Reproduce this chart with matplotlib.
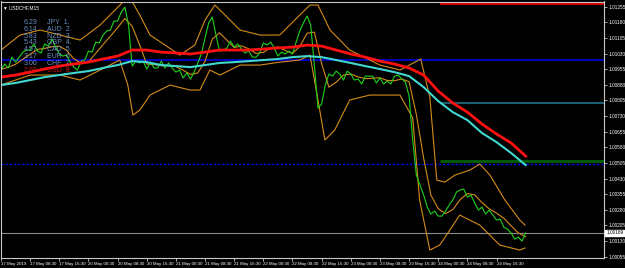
import matplotlib
matplotlib.use('Agg')
import matplotlib.pyplot as plt
import numpy as np

# close price, one value per trading hour from 17 May 2019 00:30
close = [1.00951, 1.00980, 1.00961, 1.01013, 1.00989, 1.01013, 1.01037, 1.01047, 1.01047, 1.01076,
         1.01042, 1.01033, 1.01076, 1.01066, 1.01100, 1.01061, 1.01028, 1.01018, 1.01023, 1.00989,
         1.00965, 1.00951, 1.00994, 1.00999, 1.01042, 1.01037, 1.01085, 1.01081, 1.01119, 1.01138,
         1.01143, 1.01186, 1.01186, 1.01229, 1.01253, 1.01167, 1.00970, 1.00994, 1.00985, 1.00994,
         1.00956, 1.00989, 1.00961, 1.00961, 1.00994, 1.00961, 1.00985, 1.00961, 1.00941, 1.00951,
         1.00913, 1.00937, 1.00908, 1.00941, 1.00985, 1.01028, 1.01105, 1.01177, 1.01205, 1.01119,
         1.01042, 1.01047, 1.01057, 1.01090, 1.01061, 1.01076, 1.01052, 1.01033, 1.01042, 1.01013,
         1.01013, 1.01033, 1.01081, 1.01071, 1.01085, 1.01057, 1.01018, 1.01037, 1.01028, 1.01042,
         1.01028, 1.01085, 1.01138, 1.01177, 1.01210, 1.01167, 1.00975, 1.00769, 1.00788, 1.00879,
         1.00932, 1.00922, 1.00946, 1.00932, 1.00903, 1.00946, 1.00932, 1.00903, 1.00908, 1.00884,
         1.00922, 1.00922, 1.00922, 1.00889, 1.00913, 1.00884, 1.00898, 1.00884, 1.00922, 1.00927,
         1.00908, 1.00893, 1.00826, 1.00615, 1.00447, 1.00399, 1.00351, 1.00293, 1.00260, 1.00274,
         1.00250, 1.00250, 1.00274, 1.00303, 1.00327, 1.00365, 1.00375, 1.00380, 1.00341, 1.00351,
         1.00313, 1.00279, 1.00293, 1.00260, 1.00279, 1.00255, 1.00231, 1.00236, 1.00197, 1.00188,
         1.00169, 1.00140, 1.00149, 1.00130, 1.00169]

# moving averages, one value every 4 hours
ma_hours = list(range(0, 145, 4))
ma_red = [1.00917, 1.00927, 1.00941, 1.00956, 1.00970, 1.00980, 1.00989, 1.01004, 1.01018, 1.01047,
          1.01047, 1.01037, 1.01033, 1.01028, 1.01037, 1.01047, 1.01047, 1.01047, 1.01052, 1.01057,
          1.01061, 1.01071, 1.01066, 1.01047, 1.01028, 1.01013, 1.00994, 1.00980, 1.00961, 1.00927,
          1.00850, 1.00793, 1.00749, 1.00692, 1.00644, 1.00601, 1.00538]
ma_cyan = [1.00879, 1.00889, 1.00903, 1.00917, 1.00927, 1.00937, 1.00946, 1.00961, 1.00975, 1.00994,
           1.00989, 1.00975, 1.00970, 1.00965, 1.00975, 1.00985, 1.00989, 1.00994, 1.00999, 1.01004,
           1.01013, 1.01018, 1.01013, 1.00999, 1.00985, 1.00970, 1.00956, 1.00941, 1.00922, 1.00869,
           1.00802, 1.00749, 1.00711, 1.00649, 1.00605, 1.00553, 1.00495]

# bollinger bands: middle line every 2 hours, outer bands at turning points
bb_mid_hours = list(range(0, 145, 2))
bb_mid = [1.00955, 1.00964, 1.00979, 1.01003, 1.01027, 1.01050, 1.01055, 1.01063, 1.01066, 1.01046,
          1.01005, 1.00984, 1.00990, 1.01031, 1.01073, 1.01113, 1.01154, 1.01199, 1.01161, 1.01074,
          1.00980, 1.00977, 1.00972, 1.00972, 1.00968, 1.00950, 1.00930, 1.00937, 1.00993, 1.01100,
          1.01130, 1.01094, 1.01059, 1.01067, 1.01053, 1.01031, 1.01036, 1.01057, 1.01062, 1.01045,
          1.01031, 1.01064, 1.01128, 1.01133, 1.00982, 1.00869, 1.00893, 1.00927, 1.00932, 1.00918,
          1.00910, 1.00912, 1.00914, 1.00901, 1.00900, 1.00908, 1.00895, 1.00738, 1.00528, 1.00350,
          1.00286, 1.00262, 1.00281, 1.00329, 1.00358, 1.00352, 1.00315, 1.00285, 1.00264, 1.00240,
          1.00204, 1.00169, 1.00151]
bb_up_hours = [0, 5.2, 10.7, 16.2, 21.7, 27.2, 31.3, 34, 35.4, 38.1, 40.9, 45, 49.1, 53.2, 56, 58.7,
               61.5, 65.6, 71.1, 76.5, 82, 84.8, 87, 90.3, 95.7, 104, 109.5, 113.6, 115.2, 117.7,
               119.6, 121.8, 124.6, 128.7, 131.4, 134.2, 138.3, 142.4, 143.8]
bb_up = [1.01047, 1.01119, 1.01143, 1.01119, 1.01095, 1.01167, 1.01239, 1.01287, 1.01297, 1.01215,
         1.01119, 1.01071, 1.01023, 1.01071, 1.01191, 1.01263, 1.01215, 1.01143, 1.01119, 1.01119,
         1.01215, 1.01263, 1.01263, 1.01143, 1.01047, 1.00975, 1.00951, 1.00989, 1.01004, 1.00821,
         1.00423, 1.00413, 1.00447, 1.00471, 1.00500, 1.00447, 1.00327, 1.00231, 1.00207]
bb_lo_hours = [0, 8, 16.2, 21.7, 27.2, 32.6, 34.8, 36.2, 38.1, 40.9, 46.4, 51.9, 54.6, 57.3, 60.1,
               65.6, 71.1, 76.5, 82, 84.8, 87, 88.9, 91.6, 95.7, 101.2, 109.5, 113, 114.9, 117.7,
               120.4, 123.2, 125.9, 131.4, 136.9, 142.4, 143.8]
bb_lo = [1.00879, 1.00927, 1.00927, 1.00903, 1.00951, 1.00999, 1.00879, 1.00735, 1.00759, 1.00831,
         1.00879, 1.00855, 1.00855, 1.00951, 1.00927, 1.00975, 1.00975, 1.00989, 1.00999, 1.01023,
         1.00807, 1.00615, 1.00663, 1.00807, 1.00831, 1.00831, 1.00721, 1.00327, 1.00087, 1.00111,
         1.00183, 1.00255, 1.00207, 1.00111, 1.00087, 1.00097]

# horizontal levels
lvl_red = 1.01266
lvl_blue = 1.00998
lvl_teal = 1.00794
lvl_green = 1.00516
lvl_blue_dot = 1.00500
bid = 1.00169
lvl_start = 120.4

# currency strength table
strength = ['6.29', '6.14', '5.83', '5.43', '4.57', '3.17', '3.00', '2.60']
currencies = ['JPY', 'AUD', 'NZD', 'GBP', 'CAD', 'EUR', 'CHF', 'USD']

xlabels = ['17 May 2019', '17 May 08:30', '17 May 16:30', '20 May 00:30', '20 May 08:30',
           '20 May 16:30', '21 May 00:30', '21 May 08:30', '21 May 16:30', '22 May 00:30',
           '22 May 08:30', '22 May 16:30', '23 May 00:30', '23 May 08:30', '23 May 16:30',
           '24 May 00:30', '24 May 08:30', '24 May 16:30']

small = ['Liberation Sans', 'DejaVu Sans']

fig = plt.figure(figsize=(6.25, 2.68), dpi=100)
fig.patch.set_facecolor('black')
ax = fig.add_axes([1 / 625, 10 / 268, 603 / 625, 256.5 / 268])
ax.set_facecolor('black')

hours = np.arange(len(close))
xmax = 165.5

ax.hlines(lvl_blue, 0, xmax, color='#0000e0', lw=1.2)
ax.hlines(lvl_blue_dot, 0, xmax, color='#0000ff', lw=1.0, linestyles=(0, (1.5, 1.5)))
ax.hlines(bid, 0, xmax, color='#8c8c8c', lw=0.8)
ax.hlines(lvl_red, lvl_start, xmax, color='#d00000', lw=1.5)
ax.hlines(lvl_teal, lvl_start, xmax, color='#1b5f70', lw=1.5)
ax.hlines(lvl_green, lvl_start, xmax, color='#006000', lw=2)

band_col = '#d48c1a'
ax.plot(bb_up_hours, bb_up, color=band_col, lw=0.8)
ax.plot(bb_lo_hours, bb_lo, color=band_col, lw=0.8)
ax.plot(bb_mid_hours, bb_mid, color=band_col, lw=0.8)
ax.plot(hours, close, color='#1ed21e', lw=0.8)
ax.plot(ma_hours, ma_cyan, color='#40d8d0', lw=1.5)
ax.plot(ma_hours, ma_red, color='#ff1010', lw=2)

ax.set_xlim(0, xmax)
ax.set_ylim(1.00049, 1.01280)

# axes look like a terminal chart
for s in ax.spines.values():
    s.set_color('#c8c8c8')
    s.set_linewidth(0.8)

yt = [1.00055 + 0.00075 * k for k in range(17)]
ax.set_yticks(yt)
ax.set_yticklabels(['%.5f' % v for v in yt])
ax.yaxis.tick_right()
ax.tick_params(axis='y', colors='#c8c8c8', labelcolor='white', length=2, width=0.6,
               labelsize=3.4, pad=1.5)
ax.set_xticks([8 * k for k in range(len(xlabels))])
ax.set_xticklabels(xlabels, ha='left')
ax.tick_params(axis='x', colors='#c8c8c8', labelcolor='white', length=2, width=0.6,
               labelsize=3.2, pad=1)
for lab in ax.get_xticklabels() + ax.get_yticklabels():
    lab.set_fontfamily(small)

ax.text(0.004, 0.985, '\u25bc USDCHF,M15', transform=ax.transAxes, color='white',
        fontsize=3.4, va='top', ha='left', family=small)

for i, (v, c) in enumerate(zip(strength, currencies)):
    col = '#d01010' if c == 'USD' else '#6a8fc4'
    y = 1 - (21 + 6.8 * i) / 256.5
    ax.text(0.0605, y, v, transform=ax.transAxes, color=col, fontsize=5, ha='right', va='center',
            family=small)
    ax.text(0.076, y, '%s  %d.' % (c, i + 1), transform=ax.transAxes, color=col, fontsize=5,
            ha='left', va='center', family=small)

ax.annotate('%.5f' % bid, xy=(1, bid), xycoords=('axes fraction', 'data'), xytext=(1.5, 0),
            textcoords='offset points', color='black', fontsize=3.4, va='center', ha='left',
            family=small, bbox=dict(boxstyle='square,pad=0.2', fc='white', ec='white'))

fig.savefig('out.png', dpi=100, facecolor='black')
